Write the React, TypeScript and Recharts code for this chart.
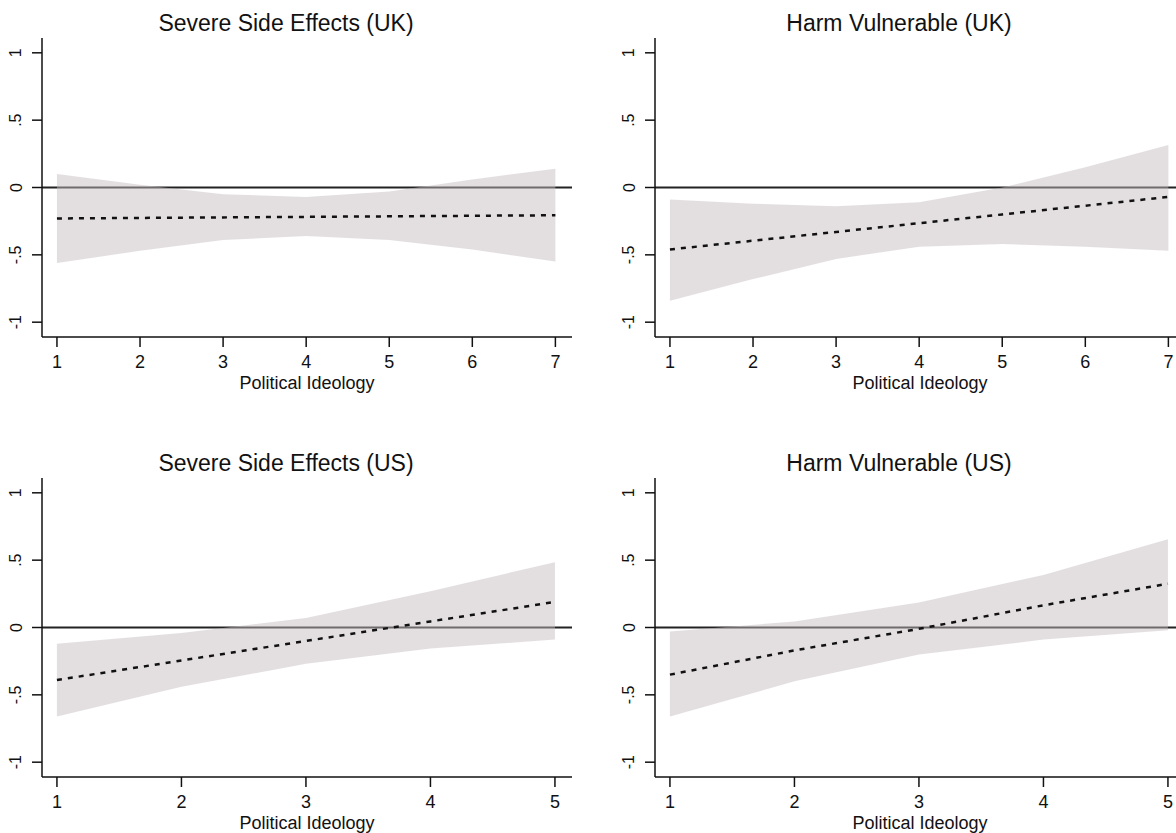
import { Area, ComposedChart, Label, Line, ReferenceLine, XAxis, YAxis } from 'recharts';

const ukIdeology = [1, 2, 3, 4, 5, 6, 7];
const usIdeology = [1, 2, 3, 4, 5];

const ukSevereMean = [-0.23, -0.226, -0.222, -0.218, -0.214, -0.21, -0.206];
const ukSevereLow = [-0.56, -0.47, -0.39, -0.36, -0.39, -0.46, -0.55];
const ukSevereHigh = [0.1, 0.02, -0.05, -0.07, -0.03, 0.06, 0.14];

const ukHarmMean = [-0.46, -0.395, -0.33, -0.265, -0.2, -0.135, -0.07];
const ukHarmLow = [-0.84, -0.68, -0.53, -0.44, -0.42, -0.44, -0.47];
const ukHarmHigh = [-0.09, -0.12, -0.14, -0.11, 0.0, 0.15, 0.315];

const usSevereMean = [-0.39, -0.245, -0.1, 0.045, 0.19];
const usSevereLow = [-0.66, -0.44, -0.27, -0.155, -0.09];
const usSevereHigh = [-0.12, -0.04, 0.07, 0.27, 0.485];

const usHarmMean = [-0.35, -0.17, -0.01, 0.165, 0.325];
const usHarmLow = [-0.66, -0.4, -0.2, -0.09, -0.02];
const usHarmHigh = [-0.03, 0.045, 0.185, 0.39, 0.655];

const yTicks = [-1, -0.5, 0, 0.5, 1];
const yTickLabels = ['-1', '-.5', '0', '.5', '1'];

const FONT = '"Liberation Sans", Arial, Helvetica, sans-serif';

const buildRows = (xs: number[], mean: number[], low: number[], high: number[]) =>
  xs.map((x, i) => ({ x, mean: mean[i], band: [low[i], high[i]] }));

// eslint-disable-next-line @typescript-eslint/no-explicit-any
const YTick = (props: any) => {
  const { y, payload } = props;
  const idx = yTicks.indexOf(payload.value);
  return (
    <text
      x={16}
      y={y}
      transform={`rotate(-90 16 ${y})`}
      textAnchor='middle'
      dominantBaseline='central'
      fontSize={16}
      fontFamily={FONT}
      fill='#111'
    >
      {idx >= 0 ? yTickLabels[idx] : payload.value}
    </text>
  );
};

type PanelProps = {
  title: string;
  left: number;
  top: number;
  xs: number[];
  xDomain: [number, number];
  mean: number[];
  low: number[];
  high: number[];
};

const Panel = ({ title, left, top, xs, xDomain, mean, low, high }: PanelProps) => {
  const data = buildRows(xs, mean, low, high);
  return (
    <div style={{ position: 'absolute', left, top, width: 590, height: 400 }}>
      <div
        style={{
          position: 'absolute',
          left: 86,
          top: 12,
          width: 400,
          textAlign: 'center',
          fontFamily: FONT,
          fontSize: 23,
          lineHeight: '23px',
          color: '#111',
        }}
      >
        {title}
      </div>
      <ComposedChart width={590} height={400} data={data} margin={{ top: 38, right: 18, left: 0, bottom: 3 }}>
        <XAxis
          type='number'
          dataKey='x'
          domain={xDomain}
          ticks={xs}
          tickSize={10}
          tickMargin={8}
          height={60}
          stroke='#111'
          strokeWidth={1.5}
          tick={{ fill: '#111', fontSize: 18, fontFamily: FONT }}
        >
          <Label value='Political Ideology' position='insideBottom' offset={8} fill='#111' fontSize={18} fontFamily={FONT} />
        </XAxis>
        <YAxis
          type='number'
          domain={[-1.11, 1.11]}
          ticks={yTicks}
          width={42}
          tickSize={10}
          stroke='#111'
          strokeWidth={1.5}
          tick={YTick}
        />
        <ReferenceLine y={0} stroke='#222' strokeWidth={2} zIndex={50} />
        <Area
          dataKey='band'
          type='linear'
          fill='#c4bcc0'
          fillOpacity={0.48}
          stroke='none'
          isAnimationActive={false}
        />
        <Line
          dataKey='mean'
          type='linear'
          stroke='#111'
          strokeWidth={2.5}
          strokeDasharray='5 6'
          dot={false}
          isAnimationActive={false}
        />
      </ComposedChart>
    </div>
  );
};

export default function App() {
  return (
    <div
      style={{
        position: 'absolute',
        left: 0,
        top: 0,
        width: 1176,
        height: 833,
        overflow: 'hidden',
        background: '#fff',
      }}
    >
      <Panel
        title='Severe Side Effects (UK)'
        left={0}
        top={0}
        xs={ukIdeology}
        xDomain={[0.82, 7.2]}
        mean={ukSevereMean}
        low={ukSevereLow}
        high={ukSevereHigh}
      />
      <Panel
        title='Harm Vulnerable (UK)'
        left={613}
        top={0}
        xs={ukIdeology}
        xDomain={[0.82, 7.2]}
        mean={ukHarmMean}
        low={ukHarmLow}
        high={ukHarmHigh}
      />
      <Panel
        title='Severe Side Effects (US)'
        left={0}
        top={440}
        xs={usIdeology}
        xDomain={[0.88, 5.137]}
        mean={usSevereMean}
        low={usSevereLow}
        high={usSevereHigh}
      />
      <Panel
        title='Harm Vulnerable (US)'
        left={613}
        top={440}
        xs={usIdeology}
        xDomain={[0.88, 5.137]}
        mean={usHarmMean}
        low={usHarmLow}
        high={usHarmHigh}
      />
    </div>
  );
}
